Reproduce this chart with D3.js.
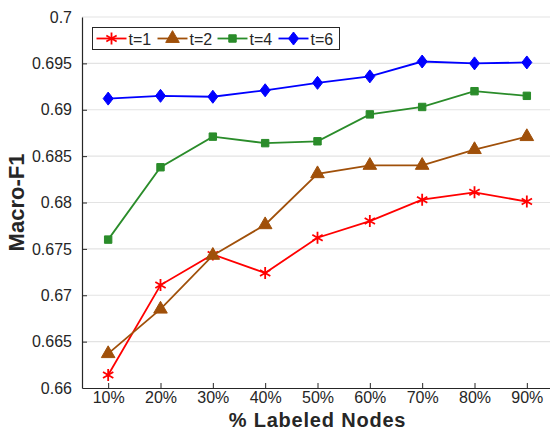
<!DOCTYPE html>
<html>
<head>
<meta charset="utf-8">
<script src="https://cdn.jsdelivr.net/npm/d3@7"></script>
<style>
  body { margin: 0; background: #fff; }
  svg { font-family: "Liberation Sans", Arial, sans-serif; }
</style>
</head>
<body>
<div id="chart"></div>
<script>
const labeled = [10, 20, 30, 40, 50, 60, 70, 80, 90];
const yTicks = [0.66, 0.665, 0.67, 0.675, 0.68, 0.685, 0.69, 0.695, 0.7];
const seriesNames = ["t=1", "t=2", "t=4", "t=6"];
const t1 = [0.6614, 0.6711, 0.6744, 0.6724, 0.6762, 0.6780, 0.6803, 0.6811, 0.6801];
const t2 = [0.6637, 0.6685, 0.6743, 0.6776, 0.6831, 0.6840, 0.6840, 0.6857, 0.6871];
const t4 = [0.6760, 0.6838, 0.6871, 0.6864, 0.6866, 0.6895, 0.6903, 0.6920, 0.6915];
const t6 = [0.6912, 0.6915, 0.6914, 0.6921, 0.6929, 0.6936, 0.6952, 0.6950, 0.6951];

const series = [
  { name: seriesNames[0], values: t1, color: "#ff0000", marker: "star" },
  { name: seriesNames[1], values: t2, color: "#a0500a", marker: "triangle" },
  { name: seriesNames[2], values: t4, color: "#2a8c2a", marker: "square" },
  { name: seriesNames[3], values: t6, color: "#0000ff", marker: "diamond" }
];

const W = 550, H = 431;
const margin = { top: 17, right: -3, bottom: 43, left: 82 };
const width = W - margin.left - margin.right;
const height = H - margin.top - margin.bottom;

const svg = d3.select("#chart").append("svg")
  .attr("width", W).attr("height", H);
const g = svg.append("g").attr("transform", `translate(${margin.left},${margin.top})`);

const x = d3.scaleLinear().domain([5, 95]).range([0, width]);
const y = d3.scaleLinear().domain([0.66, 0.7]).range([height, 0]);

// grid
g.append("g").selectAll("line").data(yTicks.slice(1)).join("line")
  .attr("x1", 0).attr("x2", width)
  .attr("y1", d => y(d)).attr("y2", d => y(d))
  .attr("stroke", "#e3e3e3").attr("stroke-width", 1.2);

// axes
const yAxis = g.append("g")
  .call(d3.axisLeft(y).tickValues(yTicks).tickFormat(d => d3.format("")(+d.toFixed(3))).tickSizeInner(-5).tickSizeOuter(0).tickPadding(10));
const xAxis = g.append("g").attr("transform", `translate(0,${height})`)
  .call(d3.axisBottom(x).tickValues(labeled).tickFormat(d => d + "%").tickSizeInner(-5).tickSizeOuter(0).tickPadding(4));
[yAxis, xAxis].forEach(a => {
  a.select(".domain").attr("stroke", "#262626").attr("stroke-width", 1.2);
  a.selectAll(".tick line").attr("stroke", "#262626");
  a.selectAll("text").attr("fill", "#262626").style("font-size", "16px");
});
yAxis.selectAll(".tick line").filter(d => d === 0.7 || d === 0.66).remove();

// lines
const line = d3.line().x((d, i) => x(labeled[i])).y(d => y(d));
const rhombus = {
  draw(ctx, size) {
    const w = 5, h = 6.5;
    ctx.moveTo(0, -h); ctx.lineTo(w, 0); ctx.lineTo(0, h); ctx.lineTo(-w, 0); ctx.closePath();
  }
};
const symbolFor = m => ({
  star: d3.symbolAsterisk, triangle: d3.symbolTriangle,
  square: d3.symbolSquare, diamond: rhombus
})[m];
const sizeFor = m => ({ star: 100, triangle: 80, square: 55, diamond: 60 })[m];

function drawMarker(sel, s) {
  const p = d3.symbol().type(symbolFor(s.marker)).size(sizeFor(s.marker))();
  sel.append("path").attr("d", p)
    .attr("fill", s.marker === "star" ? "none" : s.color)
    .attr("stroke", s.color)
    .attr("stroke-width", s.marker === "star" ? 1.8 : 1);
}

series.forEach(s => {
  g.append("path").datum(s.values)
    .attr("d", line).attr("fill", "none")
    .attr("stroke", s.color).attr("stroke-width", 1.8);
  g.append("g").selectAll("g").data(s.values).join("g")
    .attr("transform", (d, i) => `translate(${x(labeled[i])},${y(d)})`)
    .each(function () { drawMarker(d3.select(this), s); });
});

// legend
const legend = svg.append("g").attr("transform", "translate(92.5,27.5)");
legend.append("rect").attr("width", 247).attr("height", 22)
  .attr("fill", "#fff").attr("stroke", "#262626").attr("stroke-width", 1);
const legendX = [4, 65, 125, 186];
series.forEach((s, i) => {
  const e = legend.append("g").attr("transform", `translate(${legendX[i]},11)`);
  e.append("line").attr("x1", 0).attr("x2", 30).attr("stroke", s.color).attr("stroke-width", 1.8);
  drawMarker(e.append("g").attr("transform", "translate(15,0)"), s);
  e.append("text").attr("x", 32).attr("y", 6).attr("fill", "#262626")
    .style("font-size", "16px").text(s.name);
});

// labels
svg.append("text")
  .attr("transform", `translate(24,${margin.top + height / 2}) rotate(-90)`)
  .attr("text-anchor", "middle").attr("fill", "#262626")
  .style("font-size", "22px").style("font-weight", "bold").text("Macro-F1");
svg.append("text")
  .attr("x", margin.left + width / 2).attr("y", 426.5)
  .attr("text-anchor", "middle").attr("fill", "#262626")
  .style("font-size", "20px").style("letter-spacing", "0.8px")
  .style("font-weight", "bold").text("% Labeled Nodes");
</script>
</body>
</html>
